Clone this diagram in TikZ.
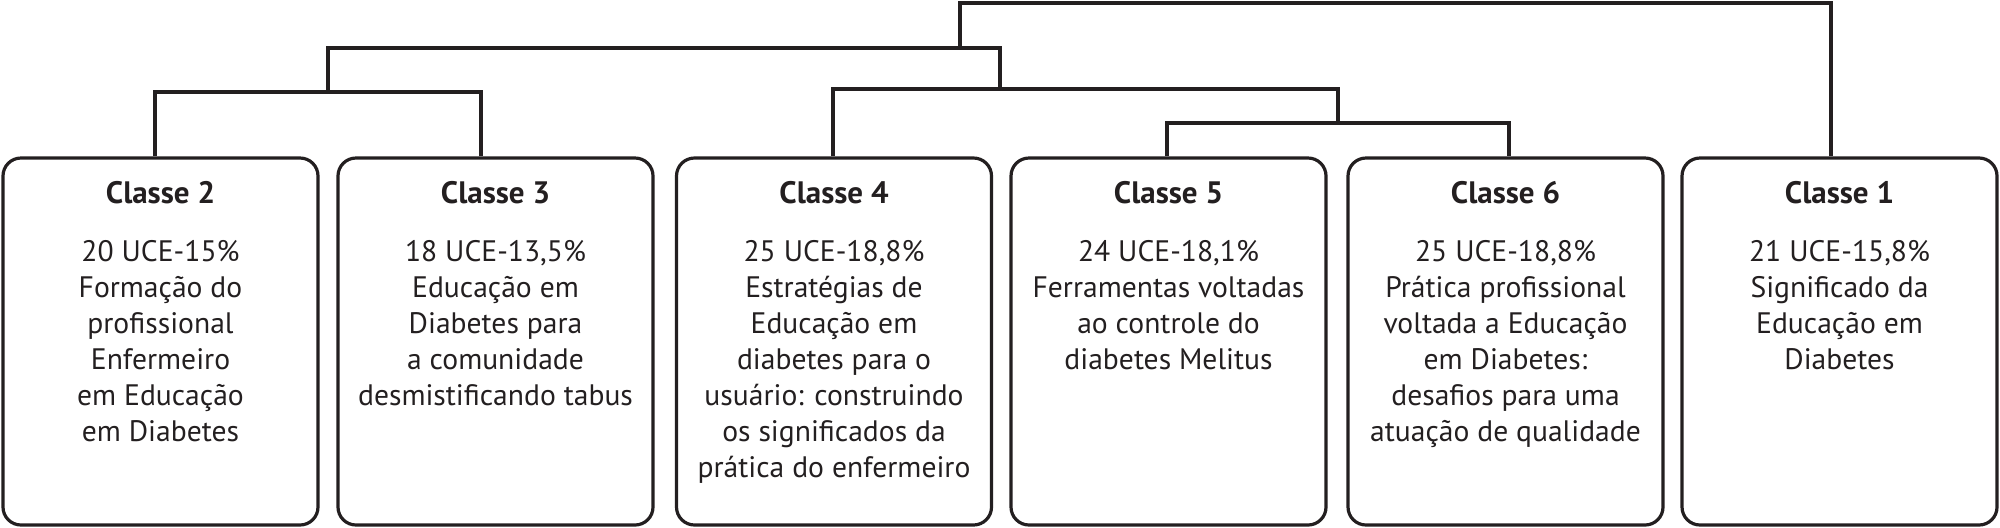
\documentclass[tikz,border=0pt]{standalone}
\usepackage{fontspec}
\setmainfont{PT Sans}
\usetikzlibrary{calc}
\definecolor{ink}{HTML}{231F20}
\begin{document}
\begin{tikzpicture}[x=0.5pt,y=-0.5pt,
  box/.style={draw=ink, line width=1.6pt, rounded corners=9pt, minimum width=157.5pt, minimum height=183.5pt, inner sep=0pt},
  title/.style={font=\bfseries\fontsize{15.5}{17}\selectfont, text=ink, anchor=base, inner sep=0pt},
  body/.style={font=\fontsize{14.8}{18}\selectfont, text=ink, align=center, anchor=north, inner sep=0pt},
  link/.style={draw=ink, line width=1.7pt, line join=miter}]
\useasboundingbox (0,0) rectangle (2000,527);
% boxes
\node[box] (b2) at (160.5,341.5) {};
\node[box] (b3) at (495.5,341.5) {};
\node[box] (b4) at (834,341.5) {};
\node[box] (b5) at (1168.5,341.5) {};
\node[box] (b6) at (1505.5,341.5) {};
\node[box] (b1) at (1839.5,341.5) {};
% titles
\node[title] (t2) at (160.5,203) {Classe 2};
\node[title] (t3) at (495.5,203) {Classe 3};
\node[title] (t4) at (834,203) {Classe 4};
\node[title] (t5) at (1168.5,203) {Classe 5};
\node[title] (t6) at (1505.5,203) {Classe 6};
\node[title] (t1) at (1839.5,203) {Classe 1};
% bodies
\node[body] (d2) at (160.5,240) {20 UCE-15\%\\Formação do\\profissional\\Enfermeiro\\em Educação\\em Diabetes};
\node[body] (d3) at (495.5,240) {18 UCE-13,5\%\\Educação em\\Diabetes para\\a comunidade\\desmistificando tabus};
\node[body] (d4) at (834,240) {25 UCE-18,8\%\\Estratégias de\\Educação em\\diabetes para o\\usuário: construindo\\os significados da\\prática do enfermeiro};
\node[body] (d5) at (1168.5,240) {24 UCE-18,1\%\\Ferramentas voltadas\\ao controle do\\diabetes Melitus};
\node[body] (d6) at (1505.5,240) {25 UCE-18,8\%\\Prática profissional\\voltada a Educação\\em Diabetes:\\desafios para uma\\atuação de qualidade};
\node[body] (d1) at (1839.5,240) {21 UCE-15,8\%\\Significado da\\Educação em\\Diabetes};
% attachment points on box tops
\coordinate (p2) at ($(b2.north)+(-5.5,0)$);
\coordinate (p3) at ($(b3.north)+(-14.5,0)$);
\coordinate (p4) at ($(b4.north)+(-1,0)$);
\coordinate (p5) at ($(b5.north)+(-1.5,0)$);
\coordinate (p6) at ($(b6.north)+(3.5,0)$);
\coordinate (p1) at ($(b1.north)+(-8.5,0)$);
% junctions
\coordinate (j23) at (328,92);
\coordinate (j56) at (1338,123);
\coordinate (j456) at (1000,89);
\coordinate (jall) at (960,48);
\coordinate (jtop) at (960,3);
% dendrogram
\draw[link] (p2) |- (j23) -| (p3);
\draw[link] (p5) |- (j56) -| (p6);
\draw[link] (p4) |- (j456) -| (j56);
\draw[link] (j23) |- (jall) -| (j456);
\draw[link] (jall) -- (jtop) -| (p1);
\end{tikzpicture}
\end{document}
